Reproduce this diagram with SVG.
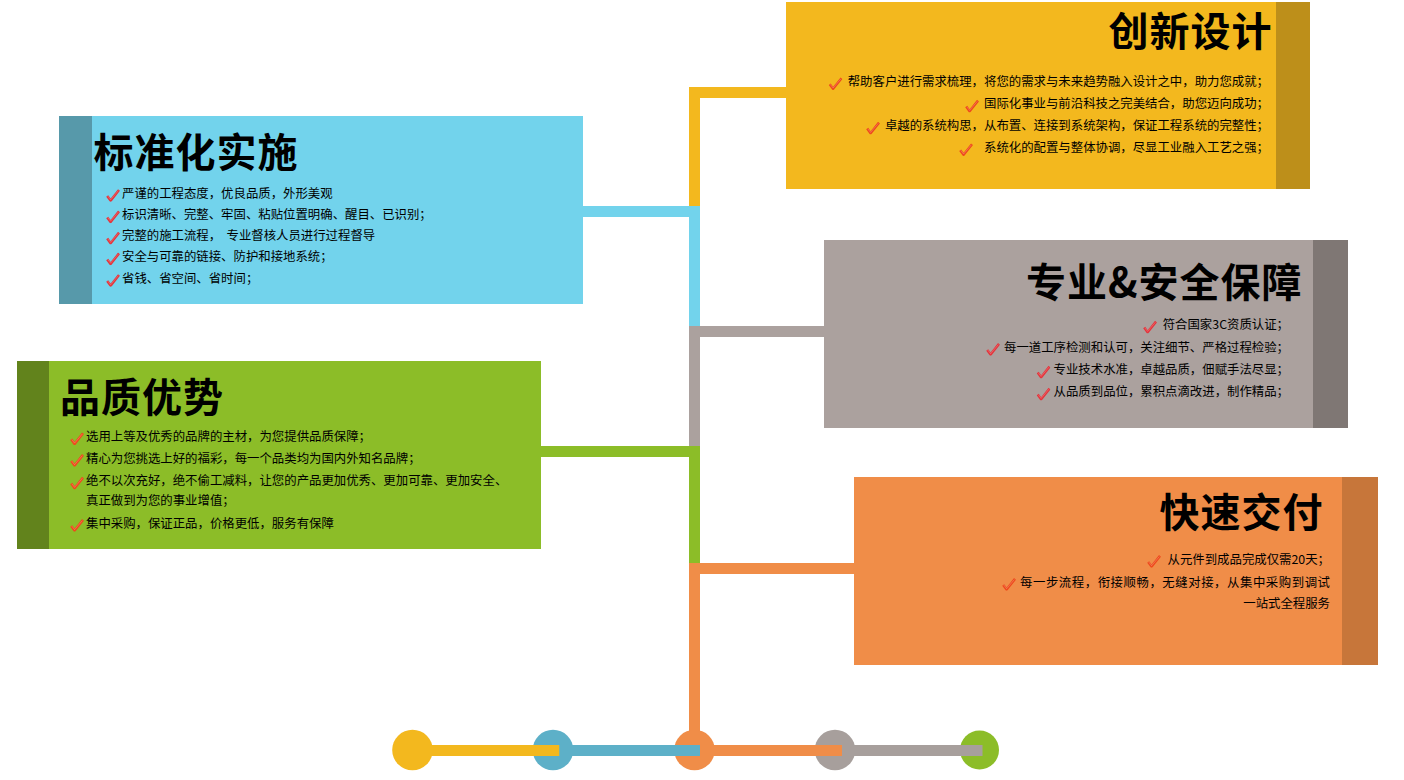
<svg xmlns="http://www.w3.org/2000/svg" xmlns:xlink="http://www.w3.org/1999/xlink" width="1404" height="780" viewBox="0 0 1404 780">
<style>
.title{font-family:"Noto Sans CJK SC","Noto Sans",sans-serif;font-weight:700;font-size:40px;letter-spacing:1px;fill:#000}
.body{font-family:"Noto Sans CJK SC","Noto Sans",sans-serif;font-size:12.4px;fill:#000;white-space:pre}
.end{text-anchor:end}
.ckO{color:#EE4A1C}
.ckR{color:#E3353C}
.conn{fill:none;stroke-width:11;stroke-linecap:butt;stroke-linejoin:miter}
</style>
<defs>
<symbol id="chk" viewBox="0 0 14 13">
<path d="M1.2,7.2 L4.6,11.8 L13,1.2" fill="none" stroke="currentColor" stroke-width="2.5" stroke-linejoin="round"/>
<path d="M1.8,7.4 L4.6,11 L12.4,1.8" fill="none" stroke="#fff" stroke-opacity="0.35" stroke-width="0.6"/>
</symbol>
</defs>
<rect width="1404" height="780" fill="#fff"/>

<g id="connectors">
<path class="conn" stroke="#F3B81E" d="M786,92.5 H694.5 V206"/>
<path class="conn" stroke="#72D3EC" d="M583,211.5 H694.5 V326"/>
<path class="conn" stroke="#ABA19E" d="M824,331.5 H694.5 V446"/>
<path class="conn" stroke="#8CBD28" d="M541,451.5 H694.5 V563"/>
<path class="conn" stroke="#F08D48" d="M854,568.5 H694.5 V750"/>
</g>

<g id="node-innovation">
<rect x="786" y="2" width="524" height="187" fill="#F3B81E"/>
<rect x="1276" y="2" width="34" height="187" fill="#BD8F1A"/>
<text class="title end" x="1272.5" y="45.5">创新设计</text>
<text class="body end" x="1269" y="86">帮助客户进行需求梳理，将您的需求与未来趋势融入设计之中，助力您成就；</text>
<text class="body end" x="1269" y="108.4">国际化事业与前沿科技之完美结合，助您迈向成功；</text>
<text class="body end" x="1269" y="130.4">卓越的系统构思，从布置、连接到系统架构，保证工程系统的完整性；</text>
<text class="body end" x="1269" y="152">系统化的配置与整体协调，尽显工业融入工艺之强；</text>
<g class="ckO">
<use xlink:href="#chk" x="828.5" y="77" width="14" height="13"/>
<use xlink:href="#chk" x="965" y="99.4" width="14" height="13"/>
<use xlink:href="#chk" x="866" y="121.4" width="14" height="13"/>
<use xlink:href="#chk" x="959" y="143" width="14" height="13"/>
</g>
</g>

<g id="node-standard">
<rect x="59" y="116" width="524" height="188" fill="#72D3EC"/>
<rect x="59" y="116" width="33" height="188" fill="#5799AA"/>
<text class="title" x="93.5" y="167">标准化实施</text>
<text class="body" x="122" y="197.8">严谨的工程态度，优良品质，外形美观</text>
<text class="body" x="122" y="219.2">标识清晰、完整、牢固、粘贴位置明确、醒目、已识别；</text>
<text class="body" x="122" y="240.4">完整的施工流程， <tspan x="226.5">专业督核人员进行过程督导</tspan></text>
<text class="body" x="122" y="261.2">安全与可靠的链接、防护和接地系统；</text>
<text class="body" x="122" y="282.8">省钱、省空间、省时间；</text>
<g class="ckR">
<use xlink:href="#chk" x="106" y="188.8" width="14" height="13"/>
<use xlink:href="#chk" x="106" y="210.2" width="14" height="13"/>
<use xlink:href="#chk" x="106" y="231.4" width="14" height="13"/>
<use xlink:href="#chk" x="106" y="252.2" width="14" height="13"/>
<use xlink:href="#chk" x="106" y="273.8" width="14" height="13"/>
</g>
</g>

<g id="node-safety">
<rect x="824" y="240" width="524" height="188" fill="#ABA19E"/>
<rect x="1313" y="240" width="35" height="188" fill="#7F7774"/>
<text class="title end" x="1302.5" y="297">专业&amp;安全保障</text>
<text class="body end" x="1289" y="329.4">符合国家3C资质认证；</text>
<text class="body end" x="1289" y="351.7">每一道工序检测和认可，关注细节、严格过程检验；</text>
<text class="body end" x="1289" y="374.4">专业技术水准，卓越品质，佃赋手法尽显；</text>
<text class="body end" x="1289" y="396.4">从品质到品位，累积点滴改进，制作精品；</text>
<g class="ckR">
<use xlink:href="#chk" x="1143" y="320.4" width="14" height="13"/>
<use xlink:href="#chk" x="986" y="342.7" width="14" height="13"/>
<use xlink:href="#chk" x="1036.5" y="365.4" width="14" height="13"/>
<use xlink:href="#chk" x="1036.5" y="387.4" width="14" height="13"/>
</g>
</g>

<g id="node-quality">
<rect x="17" y="361" width="524" height="188" fill="#8CBD28"/>
<rect x="17" y="361" width="32" height="188" fill="#62831C"/>
<text class="title" x="60" y="411.5">品质优势</text>
<text class="body" x="86" y="441.1">选用上等及优秀的品牌的主材，为您提供品质保障；</text>
<text class="body" x="86" y="462.7">精心为您挑选上好的福彩，每一个品类均为国内外知名品牌；</text>
<text class="body" x="86" y="485.4">绝不以次充好，绝不偷工减料，让您的产品更加优秀、更加可靠、更加安全、</text>
<text class="body" x="86" y="505.1">真正做到为您的事业增值；</text>
<text class="body" x="86" y="527.7">集中采购，保证正品，价格更低，服务有保障</text>
<g class="ckO">
<use xlink:href="#chk" x="70" y="432.1" width="14" height="13"/>
<use xlink:href="#chk" x="70" y="453.7" width="14" height="13"/>
<use xlink:href="#chk" x="70" y="476.4" width="14" height="13"/>
<use xlink:href="#chk" x="70" y="518.7" width="14" height="13"/>
</g>
</g>

<g id="node-delivery">
<rect x="854" y="477" width="524" height="188" fill="#F08D48"/>
<rect x="1342" y="477" width="36" height="188" fill="#C7763A"/>
<text class="title end" x="1323.5" y="527">快速交付</text>
<text class="body end" x="1330" y="563.7">从元件到成品完成仅需20天；</text>
<text class="body" x="1020" y="586.7" textLength="310" lengthAdjust="spacing">每一步流程，衔接顺畅，无缝对接，从集中采购到调试</text>
<text class="body end" x="1330" y="608.4">一站式全程服务</text>
<g class="ckO">
<use xlink:href="#chk" x="1147" y="554.7" width="14" height="13"/>
<use xlink:href="#chk" x="1002" y="577.7" width="14" height="13"/>
</g>
</g>

<g id="timeline">
<circle cx="412.5" cy="750" r="20.3" fill="#F3B81E"/>
<circle cx="553" cy="750" r="20.3" fill="#5DB0C8"/>
<circle cx="694.5" cy="750" r="20.3" fill="#F08D48"/>
<circle cx="835" cy="750" r="20.3" fill="#A79F9C"/>
<circle cx="979.5" cy="750" r="19.5" fill="#8CBD28"/>
<rect x="412.5" y="745" width="147" height="11" fill="#F3B81E"/>
<rect x="559.5" y="745" width="140.5" height="11" fill="#5DB0C8"/>
<rect x="700" y="745" width="142" height="11" fill="#F08D48"/>
<rect x="842" y="745" width="140.5" height="11" fill="#A79F9C"/>
</g>
</svg>
